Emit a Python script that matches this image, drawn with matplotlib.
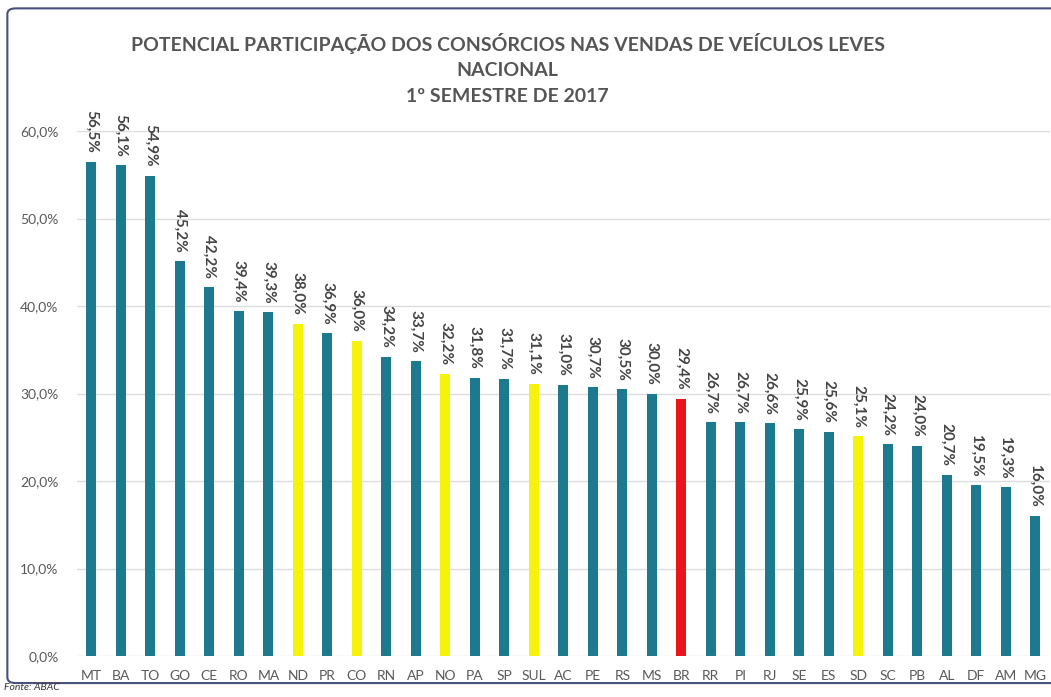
import matplotlib.pyplot as plt
from matplotlib.patches import FancyBboxPatch

states = ["MT", "BA", "TO", "GO", "CE", "RO", "MA", "ND", "PR", "CO", "RN", "AP",
          "NO", "PA", "SP", "SUL", "AC", "PE", "RS", "MS", "BR", "RR", "PI", "RJ",
          "SE", "ES", "SD", "SC", "PB", "AL", "DF", "AM", "MG"]
share = [56.5, 56.1, 54.9, 45.2, 42.2, 39.4, 39.3, 38.0, 36.9, 36.0, 34.2, 33.7,
         32.2, 31.8, 31.7, 31.1, 31.0, 30.7, 30.5, 30.0, 29.4, 26.7, 26.7, 26.6,
         25.9, 25.6, 25.1, 24.2, 24.0, 20.7, 19.5, 19.3, 16.0]
regions = ["ND", "CO", "NO", "SUL", "SD"]
national = "BR"

teal = "#1d7a8e"
yellow = "#f5f20c"
red = "#e8161c"

colors = []
for s in states:
    if s == national:
        colors.append(red)
    elif s in regions:
        colors.append(yellow)
    else:
        colors.append(teal)

plt.rcParams["font.family"] = ["Lato", "DejaVu Sans"]

fig = plt.figure(figsize=(10.51, 6.97), dpi=100)
ax = fig.add_axes([0.073, 0.0588, 0.926, 0.753])

x = list(range(len(states)))
ax.bar(x, share, width=0.34, color=colors, zorder=3)

for xi, v in zip(x, share):
    ax.text(xi, v + 1.0, f"{v:.1f}%".replace(".", ","), rotation=270,
            ha="center", va="bottom", fontsize=11, fontweight="bold",
            color="#444444", clip_on=False)

ax.set_xlim(-0.5, len(states) - 0.5)
ax.set_ylim(0, 60)
ticks = [0, 10, 20, 30, 40, 50, 60]
ax.set_yticks(ticks)
ax.set_yticklabels([f"{t:.1f}%".replace(".", ",") for t in ticks],
                   fontsize=10, color="#595959")
ax.set_xticks(x)
ax.set_xticklabels(states, fontsize=10, color="#595959")
ax.tick_params(length=0, pad=10)
ax.tick_params(axis="y", pad=13)
ax.grid(axis="y", color="#dcdcdc", linewidth=1, zorder=0)
for sp in ax.spines.values():
    sp.set_visible(False)

title_lines = ["POTENCIAL PARTICIPAÇÃO DOS CONSÓRCIOS NAS VENDAS DE VEÍCULOS LEVES",
               "NACIONAL", "1º SEMESTRE DE 2017"]
for i, line in enumerate(title_lines):
    fig.text(0.483, 1 - (43 + i * 27) / 697, line, ha="center", va="center",
             fontsize=14, fontweight="bold", color="#555555")

fig.text(0.004, 0.01, "Fonte: ABAC", fontsize=7.5, style="italic", color="#333333")

frame = FancyBboxPatch((0.007, 0.02), 1.1, 0.968, boxstyle="round,pad=0,rounding_size=0.008",
                       transform=fig.transFigure, fill=False, edgecolor="#4a4f7a",
                       linewidth=1.5, clip_on=False)
fig.patches.append(frame)

fig.savefig("out.png", dpi=100)
